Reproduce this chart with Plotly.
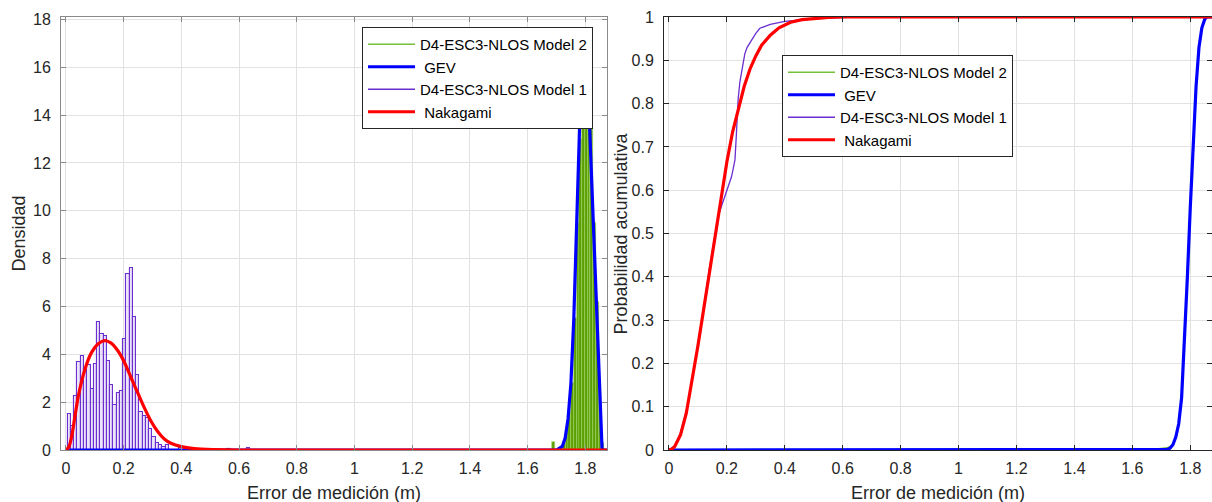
import plotly.graph_objects as go

# ---------------- data ----------------
# Model 1 histogram (density), bin centres and heights
m1_bin_width = 0.0113
m1_centers = [0.0118, 0.0231, 0.0344, 0.0457, 0.0570, 0.0683, 0.0796, 0.0909, 0.1022, 0.1135,
              0.1248, 0.1361, 0.1474, 0.1587, 0.1700, 0.1813, 0.1926, 0.2039, 0.2152, 0.2265,
              0.2378, 0.2491, 0.2604, 0.2717, 0.2830, 0.2943, 0.3056, 0.3169, 0.3282, 0.3395,
              0.3508, 0.3960, 0.4073, 0.4186, 0.4412, 0.5655, 0.6333]
m1_density = [1.52, 0.99, 2.25, 3.66, 3.91, 3.40, 3.55, 2.56, 3.59, 5.35,
              4.85, 4.75, 3.73, 2.70, 1.90, 2.39, 2.46, 4.64, 7.34, 7.62,
              5.56, 3.12, 1.59, 1.41, 1.34, 0.87, 0.56, 0.31, 0.21, 0.14,
              0.20, 0.08, 0.10, 0.08, 0.06, 0.06, 0.08]

# Model 2 histogram (density)
m2_bin_width = 0.0095
m2_centers = [1.689, 1.718, 1.727, 1.737, 1.746, 1.756, 1.765, 1.775, 1.784, 1.794,
              1.803, 1.813, 1.822, 1.832, 1.841, 1.851, 1.860]
m2_density = [0.35, 0.10, 0.30, 0.80, 1.60, 2.80, 5.50, 9.50, 13.0, 16.5,
              17.6, 16.0, 13.5, 9.5, 6.2, 2.5, 0.3]

# Nakagami fitted pdf
nak_pdf_x = [0.0, 0.01, 0.02, 0.03, 0.043, 0.066, 0.089, 0.111, 0.134, 0.157, 0.18, 0.203,
             0.226, 0.249, 0.272, 0.295, 0.318, 0.341, 0.364, 0.40, 0.445, 0.51, 0.60, 1.875]
nak_pdf_y = [0.0, 0.12, 0.56, 1.30, 2.25, 3.38, 4.08, 4.43, 4.57, 4.47, 4.15, 3.66,
             3.02, 2.39, 1.76, 1.20, 0.77, 0.46, 0.28, 0.14, 0.06, 0.02, 0.0, 0.0]

# GEV fitted pdf
gev_pdf_x = [0.0, 1.70, 1.72, 1.73, 1.74, 1.75, 1.76, 1.77, 1.78, 1.79, 1.80, 1.81,
             1.82, 1.83, 1.84, 1.85, 1.858, 1.875]
gev_pdf_y = [0.0, 0.0, 0.15, 0.5, 1.3, 2.8, 5.5, 9.5, 13.5, 15.8, 16.4, 15.0,
             12.0, 9.0, 6.0, 2.3, 0.0, 0.0]

# Empirical CDF, Model 1
m1_cdf_x = [0.0, 0.02, 0.04, 0.06, 0.08, 0.10, 0.12, 0.14, 0.16, 0.17, 0.18, 0.19, 0.20,
            0.21, 0.216, 0.222, 0.228, 0.233, 0.239, 0.245, 0.25, 0.256, 0.262, 0.27, 0.285,
            0.30, 0.314, 0.35, 0.40, 0.50, 0.57, 0.64]
m1_cdf_p = [0.0, 0.01, 0.04, 0.09, 0.16, 0.24, 0.33, 0.42, 0.50, 0.54, 0.56, 0.58, 0.60,
            0.615, 0.631, 0.65, 0.67, 0.73, 0.81, 0.85, 0.87, 0.897, 0.915, 0.93, 0.947,
            0.962, 0.974, 0.983, 0.99, 0.996, 0.998, 1.0]

# Nakagami fitted CDF
nak_cdf_x = [0.0, 0.01, 0.02, 0.03, 0.04, 0.06, 0.08, 0.10, 0.12, 0.14, 0.16, 0.18, 0.20,
             0.22, 0.24, 0.26, 0.28, 0.30, 0.32, 0.35, 0.38, 0.42, 0.46, 0.50, 0.55, 0.60, 1.875]
nak_cdf_p = [0.0, 0.002, 0.008, 0.02, 0.035, 0.085, 0.16, 0.24, 0.325, 0.41, 0.505, 0.59, 0.665,
             0.735, 0.79, 0.84, 0.88, 0.91, 0.935, 0.958, 0.975, 0.988, 0.994, 0.997, 0.999, 1.0, 1.0]

# Empirical CDF, Model 2
m2_cdf_x = [1.68, 1.69, 1.72, 1.74, 1.75, 1.76, 1.77, 1.78, 1.79, 1.80, 1.81, 1.82, 1.83,
            1.84, 1.85, 1.858, 1.875]
m2_cdf_p = [0.0, 0.003, 0.005, 0.012, 0.03, 0.06, 0.12, 0.25, 0.40, 0.56, 0.71, 0.84, 0.93,
            0.975, 0.995, 1.0, 1.0]

# GEV fitted CDF
gev_cdf_x = [0.0, 1.70, 1.72, 1.73, 1.74, 1.75, 1.76, 1.77, 1.78, 1.79, 1.80, 1.81, 1.82,
             1.83, 1.84, 1.85, 1.857, 1.875]
gev_cdf_p = [0.0, 0.0, 0.001, 0.004, 0.012, 0.03, 0.06, 0.12, 0.25, 0.40, 0.56, 0.71, 0.84,
             0.93, 0.975, 0.995, 1.0, 1.0]

x_ticks = [0, 0.2, 0.4, 0.6, 0.8, 1.0, 1.2, 1.4, 1.6, 1.8]
x_tick_text = ["0", "0.2", "0.4", "0.6", "0.8", "1", "1.2", "1.4", "1.6", "1.8"]
pdf_ticks = [0, 2, 4, 6, 8, 10, 12, 14, 16, 18]
cdf_ticks = [0, 0.1, 0.2, 0.3, 0.4, 0.5, 0.6, 0.7, 0.8, 0.9, 1.0]
cdf_tick_text = ["0", "0.1", "0.2", "0.3", "0.4", "0.5", "0.6", "0.7", "0.8", "0.9", "1"]

name_m2 = "D4-ESC3-NLOS Model 2"
name_m1 = "D4-ESC3-NLOS Model 1"
name_gev = "\u00a0GEV"
name_nak = "\u00a0Nakagami"

GREEN_FILL = "#5a9f00"
GREEN_EDGE = "#a5d46a"
GREEN_LINE = "#77c03a"
PURPLE = "#6b2fd0"
BLUE = "#0000ff"
RED = "#ff0000"
FONT = "Liberation Sans, Arial, sans-serif"
TXT = "#262626"

W, H = 1212, 502
M_T, M_B = 17, 52
PLOT_H = H - M_T - M_B
L_X0, L_X1 = 61, 607
R_X0, R_X1 = 664, 1212
XRANGE = [-0.017, 1.875]


def paper_y(px):
    """Convert a pixel row of the page into a paper y fraction."""
    return (H - M_B - px) / PLOT_H


fig = go.Figure()

# ---- left panel: densities ----
fig.add_trace(go.Bar(x=m2_centers, y=m2_density, width=m2_bin_width,
                     marker=dict(color=GREEN_FILL, line=dict(color=GREEN_EDGE, width=0.6)),
                     name=name_m2, legend="legend", showlegend=False,
                     xaxis="x", yaxis="y"))
fig.add_trace(go.Scatter(x=[None], y=[None], mode="lines", name=name_m2,
                         line=dict(color=GREEN_LINE, width=1.5), legend="legend",
                         xaxis="x", yaxis="y"))
fig.add_trace(go.Scatter(x=gev_pdf_x, y=gev_pdf_y, mode="lines", name=name_gev,
                         line=dict(color=BLUE, width=3.2), legend="legend",
                         xaxis="x", yaxis="y"))
fig.add_trace(go.Bar(x=m1_centers, y=m1_density, width=m1_bin_width,
                     marker=dict(color="rgba(150,110,225,0.18)", line=dict(color=PURPLE, width=1.1)),
                     name=name_m1, legend="legend", showlegend=False,
                     xaxis="x", yaxis="y"))
fig.add_trace(go.Scatter(x=[None], y=[None], mode="lines", name=name_m1,
                         line=dict(color=PURPLE, width=1.5), legend="legend",
                         xaxis="x", yaxis="y"))
fig.add_trace(go.Scatter(x=nak_pdf_x, y=nak_pdf_y, mode="lines", name=name_nak,
                         line=dict(color=RED, width=3.2, shape="spline", smoothing=0.6),
                         legend="legend", xaxis="x", yaxis="y"))

# ---- right panel: cumulative ----
fig.add_trace(go.Scatter(x=m2_cdf_x, y=m2_cdf_p, mode="lines", name=name_m2,
                         line=dict(color=GREEN_LINE, width=1.5), legend="legend2",
                         xaxis="x2", yaxis="y2"))
fig.add_trace(go.Scatter(x=gev_cdf_x, y=gev_cdf_p, mode="lines", name=name_gev,
                         line=dict(color=BLUE, width=3.2), legend="legend2",
                         xaxis="x2", yaxis="y2"))
fig.add_trace(go.Scatter(x=m1_cdf_x, y=m1_cdf_p, mode="lines", name=name_m1,
                         line=dict(color=PURPLE, width=1.3), legend="legend2",
                         xaxis="x2", yaxis="y2"))
fig.add_trace(go.Scatter(x=nak_cdf_x, y=nak_cdf_p, mode="lines", name=name_nak,
                         line=dict(color=RED, width=3.2), legend="legend2",
                         xaxis="x2", yaxis="y2"))

axis_common = dict(
    showgrid=True, gridcolor="#e2e2e2", gridwidth=1, zeroline=False,
    ticks="inside", ticklen=5, tickwidth=1, mirror="ticks", showline=True,
    tickfont=dict(family=FONT, size=16, color=TXT),
)

legend_common = dict(
    xanchor="left", yanchor="top", bgcolor="white", bordercolor="#262626", borderwidth=1,
    font=dict(family=FONT, size=15, color="#000000"), tracegroupgap=0, itemwidth=47,
)

fig.update_layout(
    width=W, height=H,
    margin=dict(l=0, r=0, t=M_T, b=M_B),
    paper_bgcolor="white", plot_bgcolor="white",
    barmode="overlay", bargap=0,
    font=dict(family=FONT, color=TXT),
    xaxis=dict(domain=[L_X0 / W, L_X1 / W], range=XRANGE, tickvals=x_ticks, ticktext=x_tick_text,
               linecolor="#8a8a8a", tickcolor="#8a8a8a", anchor="y", ticklabelstandoff=4, **axis_common),
    yaxis=dict(domain=[0, 1], range=[0, 18.1], tickvals=pdf_ticks, anchor="x",
               linecolor="#8a8a8a", tickcolor="#8a8a8a", ticklabelstandoff=6, **axis_common),
    xaxis2=dict(domain=[R_X0 / W, R_X1 / W], range=XRANGE, tickvals=x_ticks, ticktext=x_tick_text,
                linecolor="#262626", tickcolor="#262626", anchor="y2", ticklabelstandoff=4, **axis_common),
    yaxis2=dict(domain=[0, 1], range=[0, 1.0], tickvals=cdf_ticks, ticktext=cdf_tick_text, anchor="x2",
                linecolor="#262626", tickcolor="#262626", ticklabelstandoff=6, **axis_common),
    legend=dict(x=362 / W, y=paper_y(27), **legend_common),
    legend2=dict(x=782 / W, y=paper_y(55), **legend_common),
    showlegend=True,
)

# axis titles
title_font = dict(family=FONT, size=18, color=TXT)
fig.add_annotation(text="Densidad", x=18 / W, y=0.5, xref="paper", yref="paper",
                   textangle=-90, showarrow=False, font=title_font, xanchor="center", yanchor="middle")
fig.add_annotation(text="Probabilidad acumulativa", x=620 / W, y=0.5, xref="paper", yref="paper",
                   textangle=-90, showarrow=False, font=title_font, xanchor="center", yanchor="middle")
fig.add_annotation(text="Error de medición (m)", x=(L_X0 + L_X1) / 2 / W, y=paper_y(493),
                   xref="paper", yref="paper", showarrow=False, font=title_font,
                   xanchor="center", yanchor="middle")
fig.add_annotation(text="Error de medición (m)", x=(R_X0 + R_X1) / 2 / W, y=paper_y(493),
                   xref="paper", yref="paper", showarrow=False, font=title_font,
                   xanchor="center", yanchor="middle")

fig.write_html("out.html")
